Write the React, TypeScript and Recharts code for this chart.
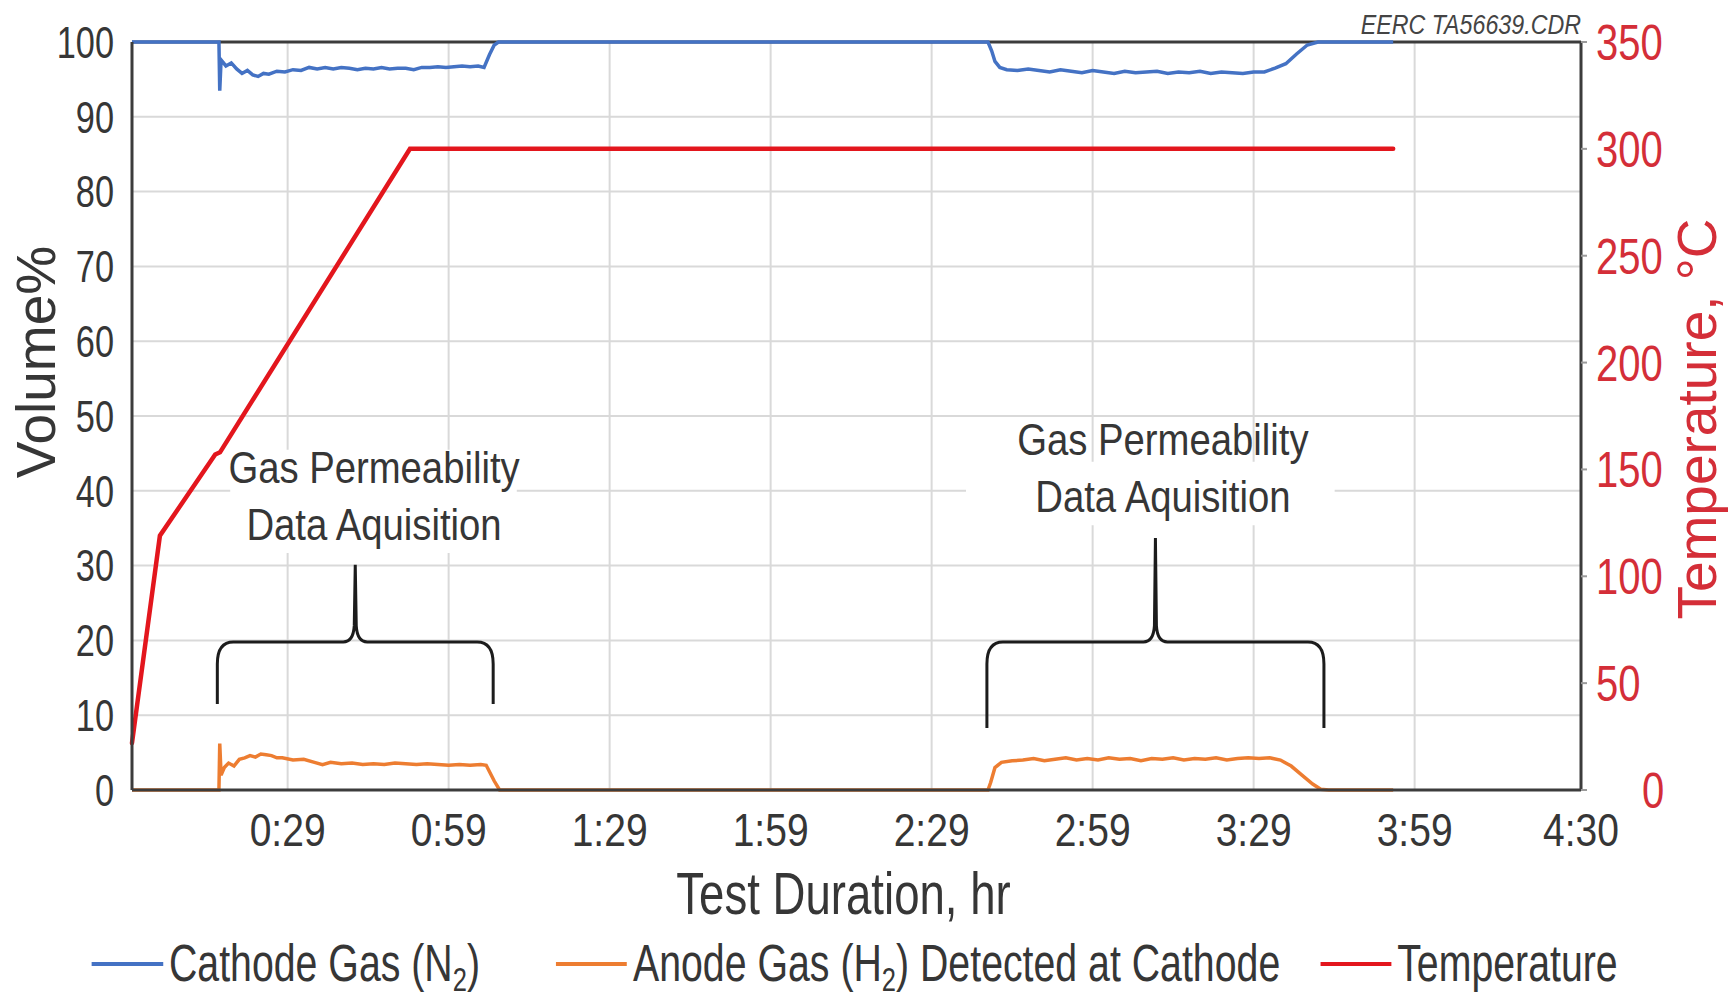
import {
  LineChart,
  Line,
  XAxis,
  YAxis,
  CartesianGrid,
  ReferenceLine,
  ReferenceArea,
  ReferenceDot,
  Legend,
} from 'recharts';

// test time in minutes
const cathodeMin = [
  0, 16.2, 16.35, 16.6, 17.5, 18.5, 19.5, 20.5, 21.5, 22.5, 23.5, 24.5, 25.5, 27, 28.5, 30, 31.5, 33, 34.5, 36,
  37.5, 39, 40.5, 42, 43.5, 45, 46.5, 48, 49.5, 51, 52.5, 54, 55.5, 57, 58.5, 60, 61.5, 63, 64.5, 65.6, 66.6,
  67.5, 68.3, 159.5, 160.2, 160.8, 161.7, 163, 165, 167, 169, 171, 173, 175, 177, 179, 181, 183, 185, 187, 189,
  191, 193, 195, 197, 199, 201, 203, 205, 207, 209, 211, 213, 215, 217, 219, 221, 235,
];
const cathodeVol = [
  100, 100, 93.5, 97.6, 96.8, 97.2, 96.4, 95.8, 96.2, 95.6, 95.4, 95.8, 95.7, 96.1, 96.0, 96.3, 96.2, 96.6, 96.4, 96.6,
  96.4, 96.6, 96.5, 96.3, 96.5, 96.4, 96.6, 96.4, 96.5, 96.5, 96.3, 96.6, 96.6, 96.7, 96.6, 96.7, 96.8, 96.7, 96.8, 96.6, 98.3,
  99.6, 100, 100, 98.8, 97.4, 96.6, 96.3, 96.2, 96.4, 96.2, 96.0, 96.3, 96.1, 95.9, 96.2, 96.0, 95.8, 96.1, 95.9, 96.0,
  96.1, 95.8, 96.0, 95.9, 96.1, 95.8, 96.0, 95.9, 95.8, 96.0, 96.0, 96.5, 97.1, 98.4, 99.6, 100, 100,
];

const anodeMin = [
  0, 16.2, 16.35, 16.6, 17.2, 18, 19, 20, 21, 22, 23, 24, 25, 26, 27, 28, 30, 32, 34, 35.5, 37, 39, 41, 43, 45,
  47, 49, 51, 53, 55, 57, 59, 61, 63, 65, 66, 67.5, 68.5, 159.5, 160, 160.8, 162, 164, 166, 168, 170, 172, 174,
  176, 178, 180, 182, 184, 186, 188, 190, 192, 194, 196, 198, 200, 202, 204, 206, 208, 210, 212, 214, 216, 218,
  220, 221.5, 223, 235,
];
const anodeVol = [
  0, 0, 6.2, 2.0, 3.0, 3.6, 3.2, 4.1, 4.3, 4.6, 4.4, 4.8, 4.7, 4.6, 4.3, 4.3, 4.0, 4.1, 3.7, 3.4, 3.7, 3.5, 3.6, 3.4, 3.5,
  3.4, 3.6, 3.5, 3.4, 3.5, 3.4, 3.3, 3.4, 3.3, 3.4, 3.3, 1.2, 0, 0, 1.0, 3.0, 3.7, 3.9, 4.0, 4.2, 3.9, 4.1, 4.3,
  4.0, 4.2, 4.0, 4.3, 4.1, 4.2, 3.9, 4.2, 4.1, 4.3, 4.0, 4.2, 4.1, 4.3, 4.0, 4.2, 4.3, 4.2, 4.3, 4.0, 3.2, 2.0,
  0.8, 0.1, 0, 0,
];

const tempMin = [0, 5.2, 15.5, 16.4, 51.8, 235];
const tempC = [22, 119, 157, 158, 300, 300];

const timeTicks = [29, 59, 89, 119, 149, 179, 209, 239, 270];
const volTicks = [0, 10, 20, 30, 40, 50, 60, 70, 80, 90, 100];
const tempTicks = [0, 50, 100, 150, 200, 250, 300, 350];

// curly braces over the two acquisition windows (minutes, volume%)
const braceFrom = [15.9, 159.3];
const braceTo = [67.3, 222.1];
const braceEnd = [11.5, 8.3];
const braceBar = [19.8, 19.8];
const braceTip = [30.1, 33.7];

// white boxes behind the notes
const boxFrom = [18.3, 155.4];
const boxTo = [71.7, 224.1];
const boxLow = [31.7, 35.4];
const boxHigh = [45.5, 43.9];

const noteMin = [45.1, 45.1, 192.1, 192.1];
const noteVol = [41.0, 33.4, 44.8, 37.2];
const noteText = ['Gas Permeability', 'Data Aquisition', 'Gas Permeability', 'Data Aquisition'];

const legendNames = ['Cathode Gas (N', 'Anode Gas (H', 'Temperature'];
const legendSubs = ['2', '2', ''];
const legendTails = [')', ') Detected at Cathode', ''];

const BLUE = '#4472C4';
const ORANGE = '#ED7D31';
const RED = '#E3161D';
const AXIS_RED = '#D42E38';
const DARK = '#3c3c3c';
const TEXT = '#363636';
const FONT = '"Liberation Sans", Arial, sans-serif';

const zip = (ts: number[], vs: number[]) => ts.map((t, i) => ({ t, v: vs[i] }));
const cathodeData = zip(cathodeMin, cathodeVol);
const anodeData = zip(anodeMin, anodeVol);
const tempData = zip(tempMin, tempC);
const legendColors = [BLUE, ORANGE, RED];

const fmtTime = (m: number) => `${Math.floor(m / 60)}:${String(m % 60).padStart(2, '0')}`;

// the source figure is squeezed sideways, so text is drawn narrowed
function SqText({ x, y, sx, size, fill, anchor, dy, italic, children }: any) {
  return (
    <g transform={`translate(${x},${y})`}>
      <text
        transform={`scale(${sx},1)`}
        textAnchor={anchor}
        dy={dy}
        fontSize={size}
        fill={fill}
        fontFamily={FONT}
        fontStyle={italic ? 'italic' : undefined}
      >
        {children}
      </text>
    </g>
  );
}

function bracePath(p: any, frac: number) {
  const L = p.x, R = p.x + p.width, T = p.y, B = p.y + p.height;
  const C = p.x + p.width / 2;
  const M = T + frac * p.height;
  const d =
    `M${L},${B} L${L},${M + 22} Q${L},${M} ${L + 16},${M} L${C - 12},${M} ` +
    `Q${C - 2},${M} ${C - 1},${M - 16} L${C},${T} L${C + 1},${M - 16} Q${C + 2},${M} ${C + 12},${M} ` +
    `L${R - 16},${M} Q${R},${M} ${R},${M + 22} L${R},${B}`;
  return <path d={d} fill="none" stroke="#1c1c1c" strokeWidth={3} />;
}

const LSX = 0.77;
function LegendBox() {
  return (
    <div style={{ width: 1730, height: 87 }}>
      <div
        style={{
          display: 'flex',
          alignItems: 'center',
          height: 87,
          paddingTop: 20,
          paddingLeft: 92 / LSX,
          boxSizing: 'border-box',
          fontFamily: FONT,
          fontSize: 51,
          lineHeight: 1,
          color: TEXT,
          whiteSpace: 'nowrap',
          transform: `scaleX(${LSX})`,
          transformOrigin: '0 0',
          width: 1730 / LSX,
        }}
      >
        {legendNames.map((name, i) => (
          <div key={name} style={{ display: 'flex', alignItems: 'center', marginRight: (i === 0 ? 76 : 40) / LSX }}>
            <div style={{ width: 71 / LSX, height: 4, background: legendColors[i], marginRight: 6 / LSX }} />
            <span>
              {name}
              {legendSubs[i] && (
                <span style={{ fontSize: '0.65em', position: 'relative', top: '0.3em' }}>{legendSubs[i]}</span>
              )}
              {legendTails[i]}
            </span>
          </div>
        ))}
      </div>
    </div>
  );
}

export default function App() {
  return (
    <div style={{ position: 'absolute', left: 0, top: 0, background: '#fff' }}>
      <LineChart width={1730} height={997} margin={{ top: 42, right: 0, bottom: 0, left: 0 }}>
        <CartesianGrid yAxisId="left" stroke="#d9d9d9" strokeWidth={2} />
        <XAxis
          type="number"
          dataKey="t"
          domain={[0, 270]}
          ticks={timeTicks}
          height={120}
          tickSize={0}
          tickMargin={23}
          axisLine={{ stroke: DARK, strokeWidth: 3 }}
          tickLine={false}
          tick={(p: any) => (
            <SqText x={p.x} y={p.y} sx={0.83} size={47} fill={TEXT} anchor="middle" dy="0.71em">
              {fmtTime(p.payload.value)}
            </SqText>
          )}
          label={(p: any) => (
            <SqText
              x={p.viewBox.x + p.viewBox.width / 2 - 13}
              y={p.viewBox.y + 124}
              sx={0.76}
              size={60}
              fill={TEXT}
              anchor="middle"
            >
              Test Duration, hr
            </SqText>
          )}
        />
        <YAxis
          yAxisId="left"
          domain={[0, 100]}
          ticks={volTicks}
          width={132}
          tickSize={0}
          tickMargin={18}
          axisLine={{ stroke: DARK, strokeWidth: 3 }}
          tickLine={false}
          tick={(p: any) => (
            <SqText x={p.x} y={p.y} sx={0.78} size={44} fill={TEXT} anchor="end" dy="0.36em">
              {p.payload.value}
            </SqText>
          )}
          label={(p: any) => {
            const cx = p.viewBox.x + 55;
            const cy = p.viewBox.y + p.viewBox.height / 2 - 54;
            return (
              <text
                x={cx}
                y={cy}
                transform={`rotate(-90 ${cx} ${cy})`}
                textAnchor="middle"
                fill={TEXT}
                fontSize={55}
                fontFamily={FONT}
              >
                Volume%
              </text>
            );
          }}
        />
        <YAxis
          yAxisId="right"
          orientation="right"
          domain={[0, 350]}
          ticks={tempTicks}
          width={149}
          tickSize={6}
          tickMargin={9}
          axisLine={{ stroke: DARK, strokeWidth: 3 }}
          tickLine={{ stroke: '#9a9a9a', strokeWidth: 2 }}
          tick={(p: any) => (
            // the zero label sits further out so it clears "4:30"
            <SqText
              x={p.x + (p.payload.value === 0 ? 46 : 0)}
              y={p.y}
              sx={0.8}
              size={50}
              fill={AXIS_RED}
              anchor="start"
              dy="0.36em"
            >
              {p.payload.value}
            </SqText>
          )}
          label={(p: any) => {
            const cx = p.viewBox.x + 135;
            const cy = p.viewBox.y + p.viewBox.height / 2 + 3;
            return (
              <text
                x={cx}
                y={cy}
                transform={`rotate(-90 ${cx} ${cy})`}
                textAnchor="middle"
                fill={AXIS_RED}
                fontSize={55}
                fontFamily={FONT}
              >
                Temperature, °C
              </text>
            );
          }}
        />
        <Legend verticalAlign="bottom" wrapperStyle={{ left: 0, bottom: 0, width: 1730, height: 87 }} content={() => <LegendBox />} />

        {boxFrom.map((f, i) => (
          <ReferenceArea
            key={`box${i}`}
            yAxisId="left"
            x1={f}
            x2={boxTo[i]}
            y1={boxLow[i]}
            y2={boxHigh[i]}
            fill="#fff"
            fillOpacity={1}
            stroke="none"
          />
        ))}
        {braceFrom.map((f, i) => (
          <ReferenceArea
            key={`brace${i}`}
            yAxisId="left"
            x1={f}
            x2={braceTo[i]}
            y1={braceEnd[i]}
            y2={braceTip[i]}
            shape={(p: any) => bracePath(p, (braceTip[i] - braceBar[i]) / (braceTip[i] - braceEnd[i]))}
          />
        ))}
        {noteText.map((txt, i) => (
          <ReferenceDot
            key={`note${i}`}
            yAxisId="left"
            x={noteMin[i]}
            y={noteVol[i]}
            r={0}
            shape={(p: any) => (
              <SqText x={p.cx} y={p.cy} sx={0.87} size={44} fill={TEXT} anchor="middle">
                {txt}
              </SqText>
            )}
          />
        ))}
        <ReferenceLine
          yAxisId="left"
          y={100}
          stroke={DARK}
          strokeWidth={3}
          label={(p: any) => (
            <SqText
              x={p.viewBox.x + p.viewBox.width}
              y={p.viewBox.y - 8}
              sx={0.83}
              size={28}
              fill="#444"
              anchor="end"
              italic
            >
              EERC TA56639.CDR
            </SqText>
          )}
        />

        <Line
          yAxisId="left"
          data={cathodeData}
          dataKey="v"
          type="linear"
          stroke={BLUE}
          strokeWidth={3.5}
          dot={false}
          isAnimationActive={false}
        />
        <Line
          yAxisId="left"
          data={anodeData}
          dataKey="v"
          type="linear"
          stroke={ORANGE}
          strokeWidth={3.5}
          dot={false}
          isAnimationActive={false}
        />
        <Line
          yAxisId="right"
          data={tempData}
          dataKey="v"
          type="linear"
          stroke={RED}
          strokeWidth={4.5}
          strokeLinecap="round"
          dot={false}
          isAnimationActive={false}
        />
      </LineChart>
    </div>
  );
}
